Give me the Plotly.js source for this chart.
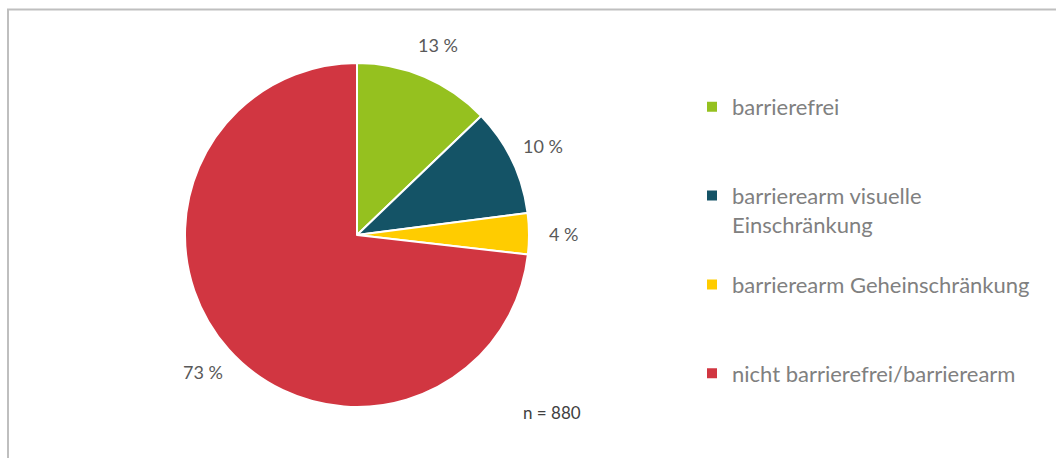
<!DOCTYPE html>
<html>
<head>
<meta charset="utf-8">
<script src="https://cdn.plot.ly/plotly-3.0.1.min.js"></script>
<style>
html,body{margin:0;padding:0;background:#fff;}
#chart{width:1056px;height:458px;}
</style>
</head>
<body>
<div id="chart"></div>
<script>
const categories = ["barrierefrei", "barrierearm visuelle<br>Einschränkung", "barrierearm Geheinschränkung", "nicht barrierefrei/barrierearm"];
const counts = [113, 89, 34, 644];
const colors = ["#95c11f", "#145366", "#ffcc00", "#d13641"];
const legendPad = ["<br> <br> ", "<br> ", "<br> <br> ", "<br> <br> "];

const total = counts.reduce((a, b) => a + b, 0);
const pctText = counts.map(v => Math.round(v / total * 100) + " %");

const W = 1056, H = 458;
const cx = 357, cy = 235, r = 172;
const labelR = 1.2 * r;

// percentage labels placed radially at each slice's mid-angle
let cum = 0;
const labelAnns = counts.map((v, i) => {
  const mid = (cum + v / 2) / total * 2 * Math.PI;
  cum += v;
  const px = cx + labelR * Math.sin(mid);
  const py = cy - labelR * Math.cos(mid);
  return {
    xref: "paper", yref: "paper",
    x: px / W, y: 1 - py / H,
    xanchor: "center", yanchor: "middle",
    text: pctText[i], showarrow: false,
    font: {family: "Lato, 'Open Sans', sans-serif", size: 18, color: "#595959"}
  };
});

const trace = {
  type: "pie",
  labels: categories.map((c, i) => c + legendPad[i]),
  values: counts,
  textinfo: "none",
  sort: false,
  direction: "clockwise",
  rotation: 0,
  marker: {colors: colors, line: {color: "#ffffff", width: 2}},
  hoverinfo: "label+percent",
  domain: {
    x: [(cx - r) / W, (cx + r) / W],
    y: [(H - (cy + r)) / H, (H - (cy - r)) / H]
  },
  automargin: false
};

const layout = {
  width: W, height: H,
  margin: {l: 0, r: 0, t: 0, b: 0},
  paper_bgcolor: "#ffffff",
  showlegend: true,
  legend: {
    x: 692 / W, y: 1 - 86 / H, xanchor: "left", yanchor: "top",
    valign: "top",
    font: {family: "Lato, 'Open Sans', sans-serif", size: 22, color: "#808080"},
    itemwidth: 30,
    bgcolor: "rgba(0,0,0,0)"
  },
  annotations: labelAnns.concat([{
    xref: "paper", yref: "paper",
    x: 552 / W, y: 1 - 412 / H,
    xanchor: "center", yanchor: "middle",
    text: "n = " + total,
    showarrow: false,
    font: {family: "Lato, 'Open Sans', sans-serif", size: 17, color: "#404040"}
  }]),
  shapes: [{
    type: "rect", xref: "paper", yref: "paper",
    x0: 8 / W, y0: 1 - 9.5 / H, x1: 1.05, y1: -0.05,
    line: {color: "#bfbfbf", width: 2},
    layer: "below"
  }]
};

Plotly.newPlot("chart", [trace], layout, {displayModeBar: false, staticPlot: true});
</script>
</body>
</html>
